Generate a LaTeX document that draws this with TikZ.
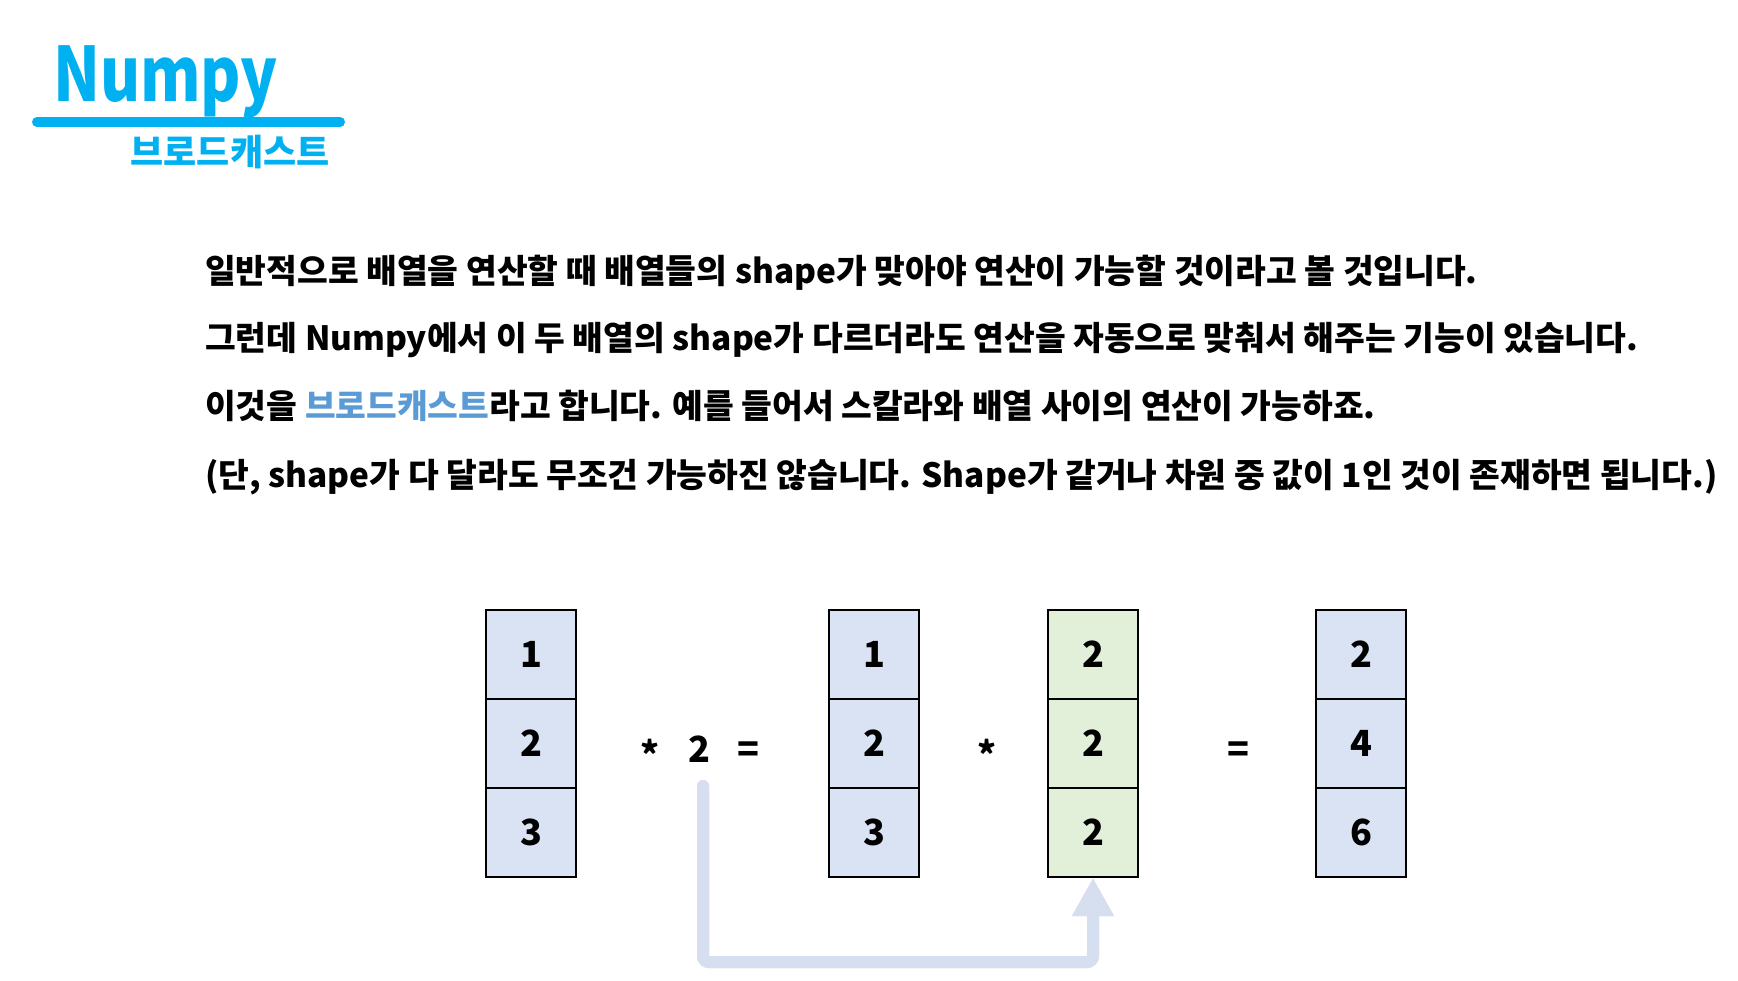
\documentclass[tikz,border=0pt]{standalone}
\usepackage{fontspec}
\setmainfont{Noto Sans CJK KR}
\usepackage{tikz}
\usetikzlibrary{arrows.meta,calc}
\definecolor{titlecyan}{HTML}{00B0F0}
\definecolor{wordblue}{HTML}{5B9BD5}
\definecolor{cellblue}{HTML}{DAE3F3}
\definecolor{cellgreen}{HTML}{E2F0D9}
\definecolor{arrowblue}{HTML}{D6DFF0}
\tikzset{
  cell/.style={draw=black, line width=2pt, minimum width=90pt, minimum height=89pt,
    inner sep=0pt, font=\fontsize{36}{36}\selectfont\bfseries},
  bluecell/.style={cell, fill=cellblue},
  greencell/.style={cell, fill=cellgreen},
  op/.style={anchor=base, inner sep=0pt, font=\fontsize{36}{36}\selectfont\bfseries},
  textline/.style={anchor=base west, inner sep=0pt, font=\fontsize{33.4}{33.4}\selectfont\bfseries},
  bcast/.style={line width=12pt, line cap=round, rounded corners=6pt,
    -{Triangle[width=39pt,length=38pt]}},
}
\begin{document}
\begin{tikzpicture}[x=1pt, y=-1pt]
        \useasboundingbox (0,0) rectangle (1738,981);

        % title
        \node[anchor=base west, inner sep=0pt, text=titlecyan,
              font=\fontsize{75}{75}\selectfont\bfseries] (title) at (53,102) {\scalebox{0.82}[1]{Numpy}};
        \draw[titlecyan, line width=10pt, line cap=round] (37,122) -- (340,122);
        \node[inner sep=0pt, text=titlecyan, font=\fontsize{36}{36}\selectfont\bfseries]
              (subtitle) at (230,152) {브로드캐스트};

        % explanation
        \node[textline] (l1) at (205,284) {일반적으로 배열을 연산할 때 배열들의 shape가 맞아야 연산이 가능할 것이라고 볼 것입니다.};
        \node[textline] (l2) at (205,351) {그런데 Numpy에서 이 두 배열의 shape가 다르더라도 연산을 자동으로 맞춰서 해주는 기능이 있습니다.};
        \node[textline] (l3) at (205,419) {이것을 \textcolor{wordblue}{브로드캐스트}라고 합니다. 예를 들어서 스칼라와 배열 사이의 연산이 가능하죠.};
        \node[textline] (l4) at (205,487) {(단, shape가 다 달라도 무조건 가능하진 않습니다. Shape가 같거나 차원 중 값이 1인 것이 존재하면 됩니다.)};

        % arrays
        \def\ya{654.5} \def\yb{743.5} \def\yc{832.5}
        \node[bluecell] (a1) at (531,\ya) {1};
        \node[bluecell] (a2) at (531,\yb) {2};
        \node[bluecell] (a3) at (531,\yc) {3};

        \node[bluecell] (b1) at (874,\ya) {1};
        \node[bluecell] (b2) at (874,\yb) {2};
        \node[bluecell] (b3) at (874,\yc) {3};

        \node[greencell] (c1) at (1093,\ya) {2};
        \node[greencell] (c2) at (1093,\yb) {2};
        \node[greencell] (c3) at (1093,\yc) {2};

        \node[bluecell] (d1) at (1361,\ya) {2};
        \node[bluecell] (d2) at (1361,\yb) {4};
        \node[bluecell] (d3) at (1361,\yc) {6};

        % operators
        \def\yop{762}
        \node[op] (times1) at (650,\yop) {\raisebox{-6pt}{*}};
        \node[op] (scalar) at (699,\yop) {2};
        \node[op] (eq1) at (748,\yop) {=};
        \node[op] (times2) at (987,\yop) {\raisebox{-6pt}{*}};
        \node[op] (eq2) at (1238,\yop) {=};

        % broadcast arrow
        \coordinate (from) at (703,786);
        \draw[black!35, opacity=.5, line width=12pt, line cap=round, rounded corners=6pt,
              -{Triangle[width=39pt,length=38pt]}, shift={(3,3)}] (from) -- ++(0,176) -| (c3.south);
        \draw[bcast, arrowblue] (from) -- ++(0,176) -| (c3.south);
\end{tikzpicture}
\end{document}
